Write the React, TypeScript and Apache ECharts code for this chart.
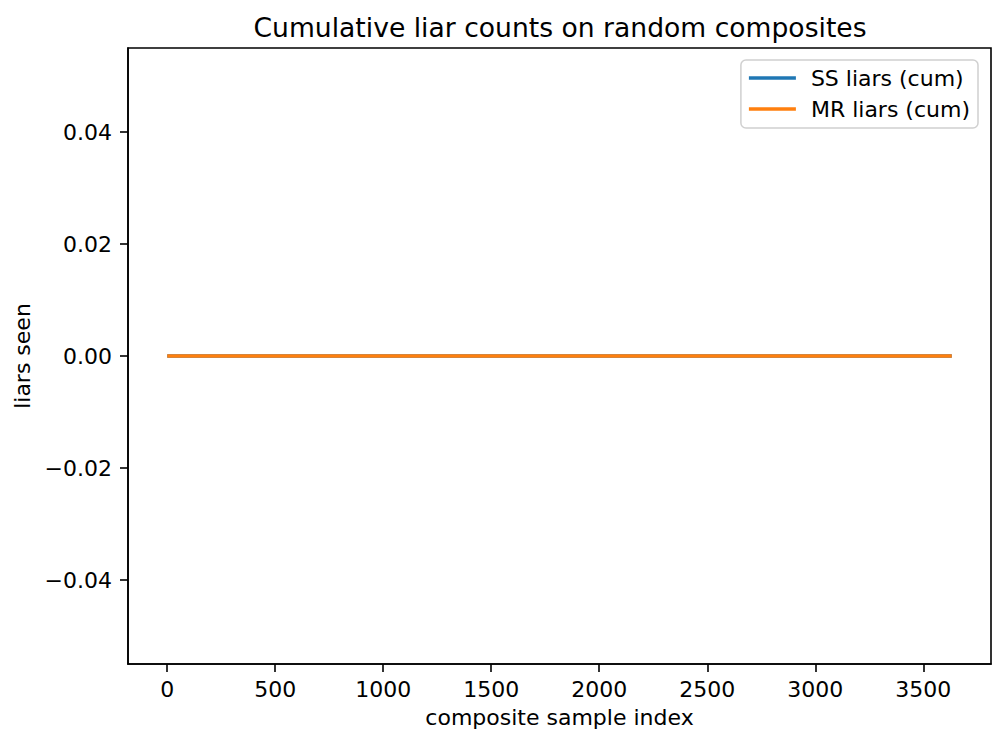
import React, { useEffect, useRef } from "react";
import * as echarts from "echarts";

// Data (all cumulative liar counts are zero across the run)
const sampleIndex = [0, 3632];
const ssLiarsCum = [0, 0];
const mrLiarsCum = [0, 0];
const xTicks = [0, 500, 1000, 1500, 2000, 2500, 3000, 3500];
const yTicks = [-0.04, -0.02, 0, 0.02, 0.04];
const seriesNames = ["SS liars (cum)", "MR liars (cum)"];
const seriesColors = ["#1f77b4", "#ff7f0e"];

const FONT = "DejaVu Sans";

export default function App() {
  const ref = useRef<HTMLDivElement>(null);
  useEffect(() => {
    if (!ref.current) return;
    const chart = echarts.init(ref.current, null, { renderer: "svg" });
    const n = sampleIndex[sampleIndex.length - 1];
    const xMin = -0.05 * n;
    const xMax = 1.05 * n;
    const fmtY = (v: number) => {
      const s = Math.abs(v).toFixed(2);
      return v < -1e-12 ? "\u2212" + s : s;
    };
    const tickStyle = { show: true, inside: false, length: 8, lineStyle: { color: "#000", width: 1.6 } };
    const axisLine = { show: true, onZero: false, lineStyle: { color: "#000", width: 1.6 } };
    chart.setOption({
      animation: false,
      backgroundColor: "#fff",
      textStyle: { fontFamily: FONT },
      title: {
        text: "Cumulative liar counts on random composites",
        left: 555,
        top: 9,
        textAlign: "center",
        textStyle: { fontFamily: FONT, fontSize: 26.6, fontWeight: "normal", color: "#000" },
      },
      legend: {
        orient: "vertical",
        right: 28,
        top: 60,
        itemWidth: 47,
        itemHeight: 3.3,
        itemGap: 5,
        icon: "rect",
        padding: [5, 8, 6, 8],
        borderColor: "#d0d0d0",
        borderWidth: 1.5,
        borderRadius: 5,
        backgroundColor: "rgba(255,255,255,0.8)",
        data: seriesNames,
        textStyle: { fontFamily: FONT, fontSize: 22, color: "#000", lineHeight: 26, padding: [0, 0, 0, 10] },
      },
      grid: {
        left: 128,
        right: 15,
        top: 48,
        bottom: 80,
        show: true,
        borderColor: "#000",
        borderWidth: 1.6,
        containLabel: false,
      },
      xAxis: {
        type: "value",
        min: xMin,
        max: xMax,
        name: "composite sample index",
        nameLocation: "middle",
        nameGap: 42,
        nameTextStyle: { fontFamily: FONT, fontSize: 22, color: "#000" },
        axisLine,
        splitLine: { show: false },
        axisTick: { ...tickStyle, customValues: xTicks },
        axisLabel: {
          customValues: xTicks,
          fontFamily: FONT,
          fontSize: 22,
          color: "#000",
          margin: 14,
          formatter: (v: number) => String(v),
        },
      },
      yAxis: {
        type: "value",
        min: -0.055,
        max: 0.055,
        name: "liars seen",
        nameLocation: "middle",
        nameGap: 93,
        nameTextStyle: { fontFamily: FONT, fontSize: 22, color: "#000" },
        axisLine,
        splitLine: { show: false },
        axisTick: { ...tickStyle, customValues: yTicks },
        axisLabel: {
          customValues: yTicks,
          fontFamily: FONT,
          fontSize: 22,
          color: "#000",
          margin: 16,
          formatter: fmtY,
        },
      },
      series: [ssLiarsCum, mrLiarsCum].map((vals, i) => ({
        name: seriesNames[i],
        type: "line",
        data: sampleIndex.map((x, j) => [x, vals[j]]),
        symbol: "none",
        color: seriesColors[i],
        lineStyle: { color: seriesColors[i], width: 3.3 },
        z: 2 + i,
      })),
    });
    return () => chart.dispose();
  }, []);
  return <div ref={ref} style={{ position: "fixed", left: 0, top: 0, width: 1006, height: 744 }} />;
}
